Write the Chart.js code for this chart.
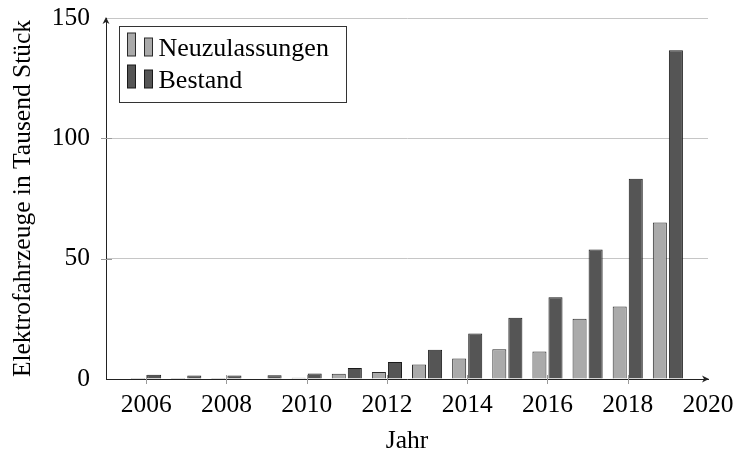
<!DOCTYPE html>
<html>
<head>
<meta charset="utf-8">
<script src="https://cdn.jsdelivr.net/npm/chart.js@4.4.1/dist/chart.umd.min.js"></script>
<style>
  html, body { margin: 0; padding: 0; background: #fff; }
  #wrap { width: 739px; height: 452px; }
</style>
</head>
<body>
<div id="wrap"><canvas id="chart" width="739" height="452"></canvas></div>
<script>
// values in thousands
const years = [2006, 2007, 2008, 2009, 2010, 2011, 2012, 2013, 2014, 2015, 2016, 2017, 2018, 2019];
const neuzulassungen = [0.02, 0.01, 0.04, 0.16, 0.54, 2.15, 2.96, 6.05, 8.52, 12.36, 11.41, 25.06, 30.1, 65.0];
const bestand = [1.79, 1.44, 1.45, 1.59, 2.31, 4.54, 7.11, 12.16, 18.95, 25.5, 34.02, 53.86, 83.18, 136.62];

const xTicks = [2006, 2008, 2010, 2012, 2014, 2016, 2018, 2020];
const yTicks = [0, 50, 100, 150];

const SERIF = "'Liberation Serif', 'DejaVu Serif', serif";
const INK = "#000";
const AXIS = "#222";
const GRID = "#c6c6c6";
const TICKMARK = "#9a9a9a";

const seriesStyle = [
  { label: "Neuzulassungen", fill: "#aaaaaa", stroke: "#2a2a2a" },
  { label: "Bestand", fill: "#555555", stroke: "#1a1a1a" },
];

function toPoints(values) {
  return years.map((y, i) => ({ x: y, y: values[i] }));
}

function arrowHead(ctx, x, y, dir) {
  // small stealth-style arrow, dir = "up" or "right"
  ctx.save();
  ctx.translate(x, y);
  if (dir === "right") ctx.rotate(Math.PI / 2);
  ctx.beginPath();
  ctx.moveTo(0, -1);
  ctx.lineTo(-3.5, 6);
  ctx.lineTo(0, 4);
  ctx.lineTo(3.5, 6);
  ctx.closePath();
  ctx.fillStyle = AXIS;
  ctx.fill();
  ctx.restore();
}

// tick marks crossing both axes plus the arrow heads, pgfplots style
const axisDecor = {
  id: "axisDecor",
  afterDatasetsDraw(chart) {
    const { ctx, chartArea, scales } = chart;
    const x0 = chartArea.left;
    const y0 = chartArea.bottom;
    ctx.save();
    ctx.strokeStyle = TICKMARK;
    ctx.lineWidth = 1;
    for (const t of xTicks) {
      const px = Math.round(scales.x.getPixelForValue(t)) + 0.5;
      if (t === 2020) continue;
      ctx.beginPath();
      ctx.moveTo(px, y0 - 4);
      ctx.lineTo(px, y0 + 5);
      ctx.stroke();
    }
    for (const t of yTicks) {
      if (t === 0 || t === 150) continue;
      const py = Math.round(scales.y.getPixelForValue(t)) + 0.5;
      ctx.beginPath();
      ctx.moveTo(x0 - 5, py);
      ctx.lineTo(x0 + 6, py);
      ctx.stroke();
    }
    ctx.restore();
    arrowHead(ctx, x0, chartArea.top, "up");
    arrowHead(ctx, chartArea.right, y0, "right");
  },
};

const boxLegend = {
  id: "boxLegend",
  afterDraw(chart) {
    const { ctx, chartArea } = chart;
    const left = Math.round(chartArea.left) + 13.5;
    const top = Math.round(chartArea.top) + 8.5;
    ctx.save();
    ctx.fillStyle = "#fff";
    ctx.fillRect(left, top, 227, 76);
    ctx.strokeStyle = "#333";
    ctx.lineWidth = 1;
    ctx.strokeRect(left, top, 227, 76);
    ctx.font = "26px " + SERIF;
    ctx.textBaseline = "alphabetic";
    seriesStyle.forEach((s, i) => {
      const base = Math.round(top + 29 + i * 32);
      ctx.fillStyle = s.fill;
      ctx.strokeStyle = s.stroke;
      ctx.fillRect(left + 8, base - 23, 8, 23);
      ctx.strokeRect(left + 8, base - 23, 8, 23);
      ctx.fillRect(left + 25, base - 18, 8, 18);
      ctx.strokeRect(left + 25, base - 18, 8, 18);
      ctx.fillStyle = INK;
      ctx.fillText(s.label, left + 39, base);
    });
    ctx.restore();
  },
};

new Chart(document.getElementById("chart"), {
  type: "bar",
  data: {
    datasets: [neuzulassungen, bestand].map((vals, i) => ({
      label: seriesStyle[i].label,
      data: toPoints(vals),
      backgroundColor: seriesStyle[i].fill,
      borderColor: seriesStyle[i].stroke,
      borderWidth: 1,
      borderSkipped: "start",
      categoryPercentage: 0.8,
      barPercentage: 0.875,
    })),
  },
  options: {
    responsive: false,
    animation: false,
    devicePixelRatio: 1,
    layout: { padding: { top: 18, right: 31, left: 0, bottom: 0 } },
    plugins: {
      legend: { display: false },
      tooltip: { enabled: false },
    },
    scales: {
      x: {
        type: "linear",
        min: 2005,
        max: 2020,
        bounds: "data",
        offset: false,
        afterBuildTicks: (s) => { s.ticks = xTicks.map((v) => ({ value: v })); },
        afterFit: (s) => {
          s.height = 73;
          s.paddingLeft = 0;
          s.paddingRight = 0;
        },
        grid: { display: false, drawTicks: false },
        border: { display: true, color: AXIS, width: 1 },
        ticks: {
          autoSkip: false,
          maxRotation: 0,
          padding: 11,
          color: INK,
          font: { family: SERIF, size: 25.5 },
          callback: (v) => String(v),
        },
        title: {
          display: true,
          text: "Jahr",
          color: INK,
          font: { family: SERIF, size: 25.5, lineHeight: 1 },
          padding: { top: 0, bottom: -2 },
        },
      },
      y: {
        min: 0,
        max: 150,
        afterBuildTicks: (s) => { s.ticks = yTicks.map((v) => ({ value: v })); },
        afterFit: (s) => {
          s.width = 106;
          s.paddingTop = 0;
          s.paddingBottom = 0;
        },
        grid: {
          drawTicks: false,
          color: (c) => (c.tick && c.tick.value === 0 ? "rgba(0,0,0,0)" : GRID),
          lineWidth: 1,
        },
        border: { display: true, color: AXIS, width: 1 },
        ticks: {
          padding: 16,
          color: INK,
          font: { family: SERIF, size: 25.5 },
        },
        title: {
          display: true,
          text: "Elektrofahrzeuge in Tausend Stück",
          color: INK,
          font: { family: SERIF, size: 25.5, lineHeight: 1.2 },
          padding: { top: 8, bottom: 0 },
        },
      },
    },
  },
  plugins: [axisDecor, boxLegend],
});
</script>
</body>
</html>
